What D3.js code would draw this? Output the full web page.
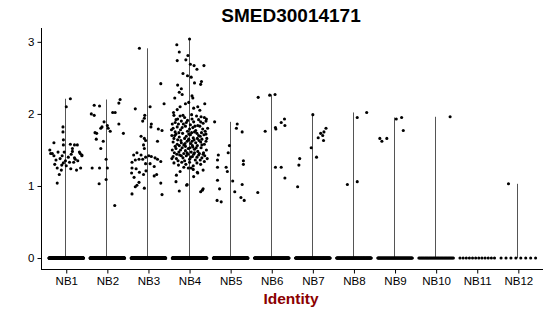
<!DOCTYPE html>
<html>
<head>
<meta charset="utf-8">
<script src="https://cdn.jsdelivr.net/npm/d3@7"></script>
<style>
    body { margin: 0; background: #fff; }
    text { font-family: "Liberation Sans", Arial, sans-serif; }
</style>
</head>
<body>
<script>
//categories and zero counts per cluster
var groups = ["NB1","NB2","NB3","NB4","NB5","NB6","NB7","NB8","NB9","NB10","NB11","NB12"];
var zeroCounts = [300, 300, 300, 300, 300, 160, 150, 110, 70, 35, 12, 8];
var yTicks = [0, 1, 2, 3];

//non-zero cells: [jitter (category units), expression]
var nb1 = [[0.1,2.21],[0,2.10],[-0.08,1.82],[-0.08,1.75],[-0.07,1.64],[-0.07,1.57],[-0.3,1.60],[-0.4,1.50],[-0.34,1.45],[0.1,1.58],
    [0.2,1.57],[0.27,1.57],[0.34,1.45],[0.15,1.48],[0.38,1.42],[-0.22,1.04],[-0.17,1.16],[-0.22,1.25],[-0.11,1.29],[-0.07,1.32],
    [-0.02,1.35],[0.08,1.33],[0.11,1.24],[0.18,1.33],[0.2,1.39],[0.35,1.25],[0.32,1.47],[0.38,1.43],[-0.38,1.45],[-0.3,1.42],
    [-0.25,1.36],[-0.15,1.38],[-0.1,1.42],[-0.05,1.47],[0.05,1.40],[0.12,1.44],[0.22,1.37],[0.28,1.35],[-0.2,1.47],[0.0,1.28],
    [-0.12,1.22],[0.25,1.22],[0.15,1.52],[-0.28,1.30]];
var nb2 = [[-0.32,2.12],[-0.19,2.11],[-0.39,2.0],[-0.32,1.98],[0.31,2.2],[0.28,2.15],[0.13,2.02],[0.19,2.02],[0.28,1.86],[-0.08,1.89],
    [-0.13,1.82],[-0.16,1.80],[0,1.84],[0.02,1.80],[0.07,1.76],[0.39,1.73],[-0.3,1.74],[-0.26,1.73],[-0.27,1.65],[-0.1,1.62],
    [-0.16,1.52],[-0.03,1.37],[-0.37,1.25],[-0.19,1.25],[0.0,1.25],[-0.03,1.09],[-0.2,1.03],[0.18,0.73]];
var nb3 = [[-0.22,2.91],[0.3,2.42],[0.38,2.14],[-0.32,2.07],[0.04,2.1],[-0.09,1.98],[-0.1,1.94],[-0.14,1.9],[0.07,1.86],[0.06,1.82],
    [0.24,1.79],[0.33,1.77],[-0.18,1.69],[-0.1,1.66],[-0.07,1.63],[0.22,1.62],[-0.12,1.57],[-0.1,1.52],[-0.28,1.46],[-0.36,1.43],
    [-0.18,1.43],[-0.07,1.40],[0.01,1.42],[0.07,1.41],[0.16,1.39],[0.22,1.37],[0.3,1.34],[-0.4,1.33],[-0.32,1.36],[-0.23,1.37],
    [-0.14,1.37],[-0.07,1.31],[0.04,1.31],[0.14,1.27],[-0.4,1.25],[-0.3,1.24],[-0.41,1.18],[-0.22,1.19],[-0.12,1.16],[-0.35,1.12],
    [-0.06,1.21],[0.2,1.16],[0.14,1.14],[-0.23,1.05],[-0.28,1.01],[-0.32,0.99],[0.3,1.04],[-0.1,0.97],[-0.4,0.89],[0.33,0.88]];
var nb4 = [[-0.31,2.96],[-0.25,2.86],[-0.3,2.74],[0,3.04],[-0.04,2.81],[-0.09,2.75],[0.02,2.69],[0.11,2.67],[0.18,2.62],[0.35,2.67],
    [-0.16,2.56],[-0.05,2.53],[0.04,2.51],[0.12,2.43],[0.29,2.45],[0.27,2.41],[-0.29,2.40],[-0.2,2.35],[-0.25,2.30],[-0.18,2.27],
    [0.06,2.25],[0.08,2.22],[-0.36,2.22],[-0.02,2.16],[0.37,2.14],[-0.1,2.14],[-0.23,2.10],[-0.39,2.02],[0.1,2.08],[0.25,2.05],
    [-0.3,2.06],[0.2,2.1],
    [-0.23,1.97],[-0.29,1.93],[0.17,1.97],[0.41,1.93],[0.05,1.99],[-0.12,1.95],[0.28,1.96],[-0.38,1.98],
    [-0.35,1.88],[-0.2,1.90],[-0.05,1.91],[0.1,1.89],[0.22,1.92],[0.33,1.87],[-0.15,1.86],[0.02,1.85],[0.4,1.9],[-0.42,1.86],
    [-0.4,1.80],[-0.3,1.82],[-0.22,1.78],[-0.1,1.83],[0.0,1.79],[0.08,1.81],[0.15,1.77],[0.25,1.83],[0.32,1.79],[0.38,1.76],
    [-0.35,1.75],[-0.05,1.76],[0.2,1.84],[-0.18,1.81],[0.12,1.75],
    [-0.43,1.70],[-0.33,1.72],[-0.25,1.68],[-0.17,1.73],[-0.08,1.69],[0.02,1.71],[0.09,1.67],[0.18,1.73],[0.26,1.69],[0.35,1.71],
    [0.42,1.66],[-0.12,1.66],[0.05,1.74],[0.3,1.65],[-0.38,1.66],[-0.02,1.65],
    [-0.4,1.61],[-0.3,1.58],[-0.21,1.63],[-0.14,1.57],[-0.06,1.62],[0.03,1.59],[0.11,1.64],[0.19,1.56],[0.27,1.61],[0.36,1.58],
    [-0.35,1.55],[-0.1,1.55],[0.07,1.56],[0.23,1.63],[0.4,1.62],[-0.25,1.56],[0.15,1.6],[-0.02,1.64],
    [-0.42,1.50],[-0.33,1.52],[-0.26,1.47],[-0.18,1.53],[-0.1,1.49],[-0.03,1.52],[0.04,1.47],[0.12,1.51],[0.2,1.48],[0.28,1.53],
    [0.34,1.46],[0.41,1.5],[-0.37,1.46],[-0.14,1.45],[0.08,1.54],[0.24,1.45],[-0.06,1.46],[0.16,1.53],[-0.22,1.5],
    [-0.4,1.41],[-0.32,1.38],[-0.24,1.43],[-0.16,1.39],[-0.08,1.42],[0.0,1.37],[0.07,1.41],[0.14,1.36],[0.22,1.43],[0.3,1.39],
    [0.37,1.42],[-0.28,1.35],[-0.12,1.35],[0.1,1.44],[0.26,1.36],[-0.04,1.44],[0.18,1.4],
    [-0.38,1.32],[-0.27,1.29],[-0.19,1.33],[-0.09,1.3],[0.0,1.33],[0.09,1.28],[0.18,1.32],[0.27,1.3],[0.36,1.34],[-0.14,1.26],
    [0.04,1.25],[-0.23,1.20],[0.19,1.19],[-0.03,1.25],[0.09,1.23],[0.1,1.13],[0.2,1.18],[-0.32,1.15],[0.33,1.22],
    [-0.33,1.06],[-0.07,1.01],[-0.25,0.93],[0.33,0.96],[0.27,0.92],[0.31,0.94],[-0.06,1.02],
    [-0.44,1.78],[-0.27,1.86],[-0.08,1.88],[0.06,1.93],[0.27,1.89],[0.36,1.95],[-0.33,1.92],[-0.16,1.98],[0.13,1.83],[0.44,1.8],
    [-0.26,1.74],[-0.02,1.72],[0.22,1.7],[0.4,1.72],[-0.2,1.6],[0.01,1.53],[0.3,1.57],[-0.31,1.44],[0.03,1.4],[0.33,1.44],
    [-0.43,1.38],[0.43,1.38],[-0.2,1.42],[0.12,1.46],[-0.11,1.59],[0.19,1.66],[-0.29,1.64],[-0.36,1.7],[0.29,1.74],[0.06,1.62]];
var nb5 = [[-0.39,1.89],[0.16,1.86],[0.14,1.80],[0.28,1.75],[-0.03,1.56],[-0.3,1.43],[-0.06,1.46],[-0.32,1.36],[-0.32,1.26],[-0.11,1.26],
    [-0.08,1.2],[-0.32,1.08],[-0.27,0.96],[-0.33,0.8],[-0.23,0.78],[0.05,1.07],[0.1,0.92],[0.31,1.35],[0.31,1.3],[0.28,1.02],
    [0.25,0.84],[0.33,0.8]];
var nb6 = [[-0.33,2.23],[-0.05,2.26],[0.08,2.27],[-0.16,1.76],[0.09,1.81],[0.1,1.79],[0.23,1.88],[0.31,1.93],[0.32,1.84],[0.09,1.26],
    [0.23,1.26],[0.32,1.11],[-0.34,0.91]];
var nb7 = [[0,1.99],[-0.04,1.53],[0.09,1.40],[0.13,1.67],[0.19,1.73],[0.24,1.70],[0.27,1.75],[0.32,1.8],[0.26,1.63],[-0.32,1.38],
    [-0.34,1.29],[-0.37,0.99]];
var nb8 = [[0.08,1.95],[0.31,2.02],[-0.16,1.02],[0.08,1.06]];
var nb9 = [[0.03,1.93],[0.16,1.95],[0.2,1.77],[-0.37,1.66],[-0.32,1.62],[-0.2,1.66]];
var nb10 = [[0.34,1.96]];
var nb11 = [];
var nb12 = [[-0.24,1.03]];

window.onload = setChart();

function setChart(){

    var width = 550,
        height = 316;

    var svg = d3.select("body")
        .append("svg")
        .attr("width", width)
        .attr("height", height);

    var expr = [nb1, nb2, nb3, nb4, nb5, nb6, nb7, nb8, nb9, nb10, nb11, nb12];

    //all cells: zeros spread across the jitter width, then the expressing ones
    var cells = [];
    groups.forEach(function(g, i){
        var n = zeroCounts[i];
        for (var k=0; k<n; k++){
            cells.push({group: g, jitter: n > 1 ? -0.42 + 0.84*k/(n-1) : 0, value: 0});
        };
        expr[i].forEach(function(p){
            cells.push({group: g, jitter: p[0], value: p[1]});
        });
    });

    var yMax = d3.max(cells, function(d){ return d.value; });

    var x = d3.scalePoint()
        .domain(groups)
        .range([41.6, 543])
        .padding(0.6);

    var step = x.step();

    var y = d3.scaleLinear()
        .domain([-0.05*yMax, yMax*1.05])
        .range([269, 28]);

    //violins collapse to a thin line from 0 to the group max
    var maxes = groups.map(function(g, i){
        return {group: g, max: expr[i].length ? d3.max(expr[i], function(p){ return p[1]; }) : 0};
    });

    svg.selectAll(".violin")
        .data(maxes.filter(function(d){ return d.max > 0; }))
        .enter()
        .append("line")
        .attr("class", "violin")
        .attr("x1", function(d){ return Math.round(x(d.group)) - 0.5; })
        .attr("x2", function(d){ return Math.round(x(d.group)) - 0.5; })
        .attr("y1", y(0))
        .attr("y2", function(d){ return y(d.max); })
        .attr("stroke", "#555")
        .attr("stroke-width", 1);

    svg.selectAll(".cell")
        .data(cells)
        .enter()
        .append("circle")
        .attr("class", "cell")
        .attr("cx", function(d){ return x(d.group) + d.jitter*step; })
        .attr("cy", function(d){ return y(d.value); })
        .attr("r", 1.55)
        .attr("fill", "#000");

    //axes
    var yAxis = svg.append("g")
        .attr("transform", "translate(41.5,0)")
        .call(d3.axisLeft(y).tickValues(yTicks).tickSize(4).tickPadding(3).tickFormat(d3.format("d")));

    var xAxis = svg.append("g")
        .attr("transform", "translate(0,269.5)")
        .call(d3.axisBottom(x).tickSize(4).tickPadding(3));

    [yAxis, xAxis].forEach(function(a){
        a.select(".domain").remove();
        a.selectAll("line").attr("stroke", "#000");
        a.selectAll("text").attr("font-size", "11.5px").attr("fill", "#000")
            .style("font-family", "'Liberation Sans', Arial, sans-serif");
    });

    svg.append("line")
        .attr("x1", 41.5).attr("x2", 41.5)
        .attr("y1", 28).attr("y2", 270)
        .attr("stroke", "#000");

    svg.append("line")
        .attr("x1", 41).attr("x2", 543)
        .attr("y1", 269.5).attr("y2", 269.5)
        .attr("stroke", "#000");

    //titles
    svg.append("text")
        .attr("x", 291)
        .attr("y", 22)
        .attr("text-anchor", "middle")
        .attr("font-size", "19px")
        .attr("font-weight", "bold")
        .text("SMED30014171");

    svg.append("text")
        .attr("x", 291)
        .attr("y", 304)
        .attr("text-anchor", "middle")
        .attr("font-size", "15.5px")
        .attr("font-weight", "bold")
        .attr("fill", "#8B0000")
        .text("Identity");
};
</script>
</body>
</html>
